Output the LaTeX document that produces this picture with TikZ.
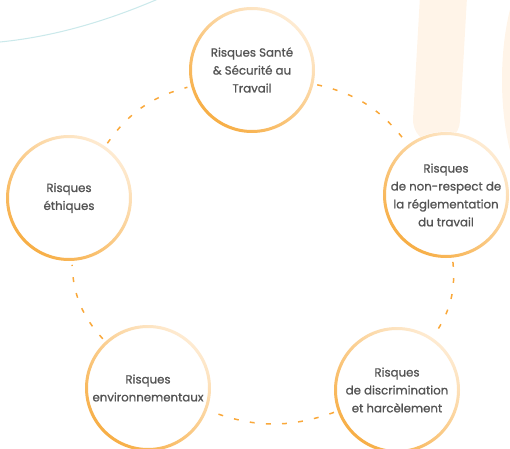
\documentclass[tikz,border=0pt]{standalone}
\usepackage{fontspec}
\setmainfont{Poppins}[FakeBold=0.9]
\usepackage{xcolor}
\usepackage{tikz}

\definecolor{txtgray}{HTML}{545454}
\definecolor{ringlight}{HTML}{FEEBD2}
\definecolor{ringdark}{HTML}{F7AE45}
\definecolor{dashorange}{HTML}{F9A83A}
\definecolor{peach}{HTML}{FFF4E8}
\definecolor{lightteal}{HTML}{CBE9EB}

\tikzset{
    risk/.style={circle, fill=white, minimum size=2.52cm, inner sep=0pt,
        align=center, text=txtgray, font=\fontsize{6.7}{10.2}\selectfont},
    ringshade/.style={top color=ringlight, bottom color=ringdark, shading angle=-40},
    dashlink/.style={draw=dashorange, line width=0.85pt,
        dash pattern=on 2.8pt off 6.4pt, shorten <=2pt, shorten >=2pt}
}

\begin{document}
\begin{tikzpicture}[x=0.02cm, y=0.02cm]
        \useasboundingbox (0,0) rectangle (510,-449);
        \clip (0,0) rectangle (510,-449);

        \draw[lightteal, line width=0.6pt] (0,-42) .. controls (60,-36) and (115,-18) .. (165,4);
        \draw[peach, line width=0.94cm, line cap=round] (445,30) -- (436.5,-120);
        \fill[peach] (548,-80) ellipse (46 and 125);

        \node[risk] (sante) at (252,-70) {Risques Santé\\\& Sécurité au\\Travail};
        \node[risk] (reglement) at (446,-195) {Risques\\de non-respect de\\la réglementation\\du travail};
        \node[risk] (discrim) at (397,-390) {Risques\\de discrimination\\et harcèlement};
        \node[risk] (environ) at (148,-388) {Risques\\environnementaux};
        \node[risk] (ethique) at (69,-198) {Risques\\éthiques};

        \foreach \n in {sante, reglement, discrim, environ, ethique}
            \shade[ringshade, even odd rule] (\n.center) circle (63) circle (60);

        \draw[dashlink] (sante) to[bend left=20] (reglement);
        \draw[dashlink] (reglement) to[bend left=20] (discrim);
        \draw[dashlink] (discrim) to[bend left=20] (environ);
        \draw[dashlink] (environ) to[bend left=20] (ethique);
        \draw[dashlink] (ethique) to[bend left=20] (sante);
    \end{tikzpicture}
\end{document}
